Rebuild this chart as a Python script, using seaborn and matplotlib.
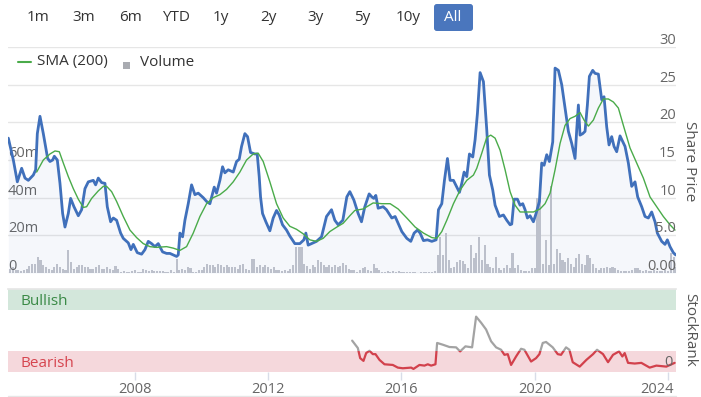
import numpy as np
import pandas as pd
import seaborn as sns
import matplotlib.pyplot as plt
import matplotlib.transforms as mtransforms
from matplotlib.lines import Line2D
from matplotlib.patches import Rectangle, FancyBboxPatch

# share price (decimal year, price)
price_year = [
    2004.20, 2004.35, 2004.47, 2004.60, 2004.70, 2004.80, 2004.95, 2005.02, 2005.07, 2005.15,
    2005.25, 2005.38, 2005.45, 2005.53, 2005.58, 2005.67, 2005.75, 2005.83, 2005.90, 2006.00,
    2006.07, 2006.17, 2006.30, 2006.40, 2006.50, 2006.60, 2006.75, 2006.82, 2006.90, 2007.00,
    2007.10, 2007.17, 2007.27, 2007.35, 2007.45, 2007.57, 2007.65, 2007.80, 2007.88, 2007.95,
    2008.07, 2008.20, 2008.30, 2008.40, 2008.50, 2008.60, 2008.70, 2008.83, 2008.95, 2009.05,
    2009.15, 2009.25, 2009.30, 2009.35, 2009.43, 2009.50, 2009.60, 2009.70, 2009.80, 2009.90,
    2010.05, 2010.15, 2010.25, 2010.38, 2010.45, 2010.55, 2010.63, 2010.70, 2010.80, 2010.95,
    2011.05, 2011.13, 2011.20, 2011.30, 2011.38, 2011.47, 2011.60, 2011.67, 2011.73, 2011.77,
    2011.83, 2011.93, 2012.05, 2012.15, 2012.25, 2012.33, 2012.43, 2012.55, 2012.65, 2012.80,
    2012.95, 2013.07, 2013.13, 2013.20, 2013.30, 2013.45, 2013.60, 2013.75, 2013.90, 2014.00,
    2014.10, 2014.24, 2014.36, 2014.45, 2014.57, 2014.70, 2014.80, 2014.90, 2015.03, 2015.11,
    2015.17, 2015.23, 2015.30, 2015.45, 2015.55, 2015.71, 2015.81, 2015.90, 2016.01, 2016.16,
    2016.28, 2016.38, 2016.48, 2016.56, 2016.66, 2016.78, 2016.91, 2017.04, 2017.11, 2017.21,
    2017.29, 2017.38, 2017.46, 2017.56, 2017.74, 2017.81, 2017.88, 2017.96, 2018.04, 2018.14,
    2018.21, 2018.28, 2018.36, 2018.46, 2018.56, 2018.64, 2018.74, 2018.81, 2018.94, 2019.06,
    2019.16, 2019.26, 2019.31, 2019.38, 2019.48, 2019.56, 2019.64, 2019.71, 2019.78, 2019.86,
    2019.96, 2020.04, 2020.14, 2020.21, 2020.28, 2020.36, 2020.44, 2020.54, 2020.61, 2020.71,
    2020.81, 2020.91, 2021.01, 2021.11, 2021.21, 2021.26, 2021.31, 2021.36, 2021.44, 2021.51,
    2021.58, 2021.64, 2021.74, 2021.81, 2021.91, 2022.01, 2022.08, 2022.16, 2022.23, 2022.31,
    2022.38, 2022.46, 2022.56, 2022.71, 2022.81, 2022.91, 2023.01, 2023.09, 2023.21, 2023.31,
    2023.41, 2023.51, 2023.61, 2023.68, 2023.81, 2023.91, 2023.98, 2024.06, 2024.16, 2024.23]
price = [
    17.9, 15.0, 12.1, 13.9, 12.6, 12.3, 13.0, 13.7, 18.5, 20.8,
    18.5, 15.2, 14.8, 15.0, 15.5, 15.0, 11.9, 7.9, 6.1, 7.9,
    9.9, 8.8, 7.6, 8.4, 11.2, 12.1, 12.3, 11.7, 12.6, 12.0,
    11.9, 8.8, 6.8, 7.3, 7.0, 5.3, 4.6, 4.0, 3.1, 3.8,
    2.7, 2.5, 3.1, 4.2, 3.9, 3.5, 3.9, 2.8, 2.6, 2.6,
    2.4, 2.2, 2.4, 5.3, 4.8, 7.0, 9.2, 11.7, 10.4, 10.6,
    10.0, 9.5, 9.2, 11.4, 10.6, 12.3, 14.1, 13.3, 13.7, 13.4,
    14.8, 15.1, 16.8, 18.5, 18.1, 16.0, 15.8, 15.8, 12.8, 10.1,
    7.9, 6.8, 5.6, 7.3, 8.3, 7.7, 6.4, 5.7, 4.9, 3.9,
    3.9, 4.4, 5.3, 3.7, 3.9, 4.2, 4.8, 7.5, 8.4, 7.0,
    6.4, 7.0, 10.1, 10.8, 9.7, 7.9, 6.8, 8.8, 10.5, 10.1,
    9.9, 10.3, 8.6, 8.8, 8.4, 7.3, 7.5, 6.6, 5.5, 4.6,
    4.2, 5.3, 5.7, 5.3, 4.3, 4.4, 4.2, 4.4, 8.4, 9.2,
    12.3, 15.2, 12.3, 12.3, 10.7, 11.9, 13.4, 12.8, 15.8, 15.4,
    17.7, 21.2, 26.6, 25.4, 19.0, 13.0, 11.0, 9.0, 7.5, 7.7,
    7.0, 6.4, 6.5, 9.8, 9.8, 9.0, 9.2, 8.4, 7.3, 7.6,
    6.8, 7.9, 9.5, 14.6, 14.3, 15.7, 14.8, 17.4, 27.2, 26.9,
    25.0, 21.9, 18.8, 17.2, 15.2, 19.0, 22.3, 18.3, 18.5, 18.8,
    22.3, 26.1, 26.9, 26.5, 26.4, 23.0, 23.4, 19.4, 17.0, 18.1,
    16.8, 16.1, 18.2, 16.8, 14.6, 11.5, 12.1, 10.1, 8.8, 7.5,
    7.3, 8.1, 6.8, 5.3, 4.2, 3.8, 4.4, 3.5, 2.7, 2.4]

# 200 day simple moving average
sma_year = [
    2005.05, 2005.25, 2005.45, 2005.60, 2005.73, 2005.85, 2006.00, 2006.15, 2006.30, 2006.45,
    2006.55, 2006.70, 2006.90, 2007.05, 2007.15, 2007.30, 2007.45, 2007.65, 2007.85, 2008.05,
    2008.25, 2008.45, 2008.65, 2008.95, 2009.15, 2009.35, 2009.55, 2009.75, 2009.95, 2010.15,
    2010.35, 2010.55, 2010.75, 2010.95, 2011.15, 2011.35, 2011.55, 2011.70, 2011.85, 2012.05,
    2012.25, 2012.45, 2012.65, 2012.85, 2013.05, 2013.25, 2013.45, 2013.65, 2013.85, 2014.06,
    2014.25, 2014.45, 2014.60, 2014.85, 2015.15, 2015.41, 2015.66, 2015.90, 2016.16, 2016.41,
    2016.66, 2016.91, 2017.06, 2017.21, 2017.36, 2017.56, 2017.76, 2017.96, 2018.16, 2018.26,
    2018.41, 2018.56, 2018.68, 2018.81, 2018.96, 2019.11, 2019.26, 2019.41, 2019.56, 2019.66,
    2019.96, 2020.16, 2020.31, 2020.46, 2020.61, 2020.76, 2020.91, 2021.06, 2021.21, 2021.36,
    2021.48, 2021.61, 2021.76, 2021.91, 2022.06, 2022.21, 2022.36, 2022.51, 2022.66, 2022.86,
    2023.06, 2023.26, 2023.46, 2023.66, 2023.86, 2024.06, 2024.21]
sma = [
    13.4, 15.0, 15.8, 16.2, 16.1, 14.6, 12.8, 11.2, 9.8, 8.7,
    8.8, 9.9, 10.9, 11.5, 11.5, 10.8, 9.5, 7.5, 5.7, 4.7,
    3.9, 3.5, 3.4, 3.5, 3.3, 3.0, 3.5, 5.3, 7.5, 9.2,
    10.0, 10.4, 11.1, 12.1, 13.4, 15.0, 15.8, 15.9, 14.8, 12.1,
    9.2, 7.3, 6.2, 5.8, 5.2, 4.4, 4.2, 4.6, 5.5, 6.1,
    6.6, 7.6, 8.3, 8.5, 9.3, 9.2, 9.2, 8.5, 7.3, 6.1,
    5.3, 4.7, 4.6, 5.5, 7.0, 9.2, 11.0, 12.3, 13.0, 13.9,
    15.9, 18.0, 18.3, 17.9, 16.3, 13.7, 10.8, 9.0, 8.1, 8.1,
    8.1, 8.5, 9.2, 10.6, 13.7, 17.2, 19.6, 20.5, 20.8, 21.3,
    20.3, 19.5, 20.3, 21.9, 23.1, 23.1, 22.7, 21.9, 19.6, 16.6,
    14.6, 12.6, 10.1, 8.8, 7.5, 6.4, 5.7]

# monthly volume in millions, from Mar 2004
volume_start = "2004-03-01"
volume_m = [
    2.3, 2.0, 3.0, 1.5, 1.5, 1.2, 1.5, 2.0, 3.5, 5.0,
    5.0, 8.5, 6.7, 4.5, 3.0, 2.3, 1.4, 3.0, 4.6, 3.0, 2.0, 1.4,
    12.4, 5.8, 2.3, 3.0, 4.0, 4.0, 3.0, 3.0, 2.3, 2.3, 3.0, 4.4,
    2.3, 2.3, 3.0, 2.3, 1.4, 3.5, 2.3, 0.5, 0.8, 0.5, 0.3, 0.8,
    1.4, 0.5, 0.3, 2.3, 1.4, 1.0, 1.4, 0.9, 0.9, 0.8, 0.9, 0.5,
    0.5, 1.4, 0.5, 7.6, 1.5, 2.3, 1.4, 3.0, 2.7, 0.5, 0.5, 1.4,
    1.4, 3.0, 5.0, 4.0, 4.0, 3.0, 5.0, 4.0, 3.0, 4.0, 3.0, 3.0,
    3.0, 2.3, 4.0, 5.0, 2.3, 1.5, 7.6, 7.6, 3.0, 4.0, 3.0, 4.0,
    3.0, 2.3, 3.0, 1.4, 1.4, 1.0, 1.4, 1.0, 2.0, 4.0, 13.8, 13.8,
    14.0, 5.0, 3.5, 2.3, 4.0, 3.0, 6.7, 6.0, 4.0, 3.0, 4.5, 3.0,
    4.5, 3.0, 3.5, 5.5, 4.0, 2.0, 1.6, 1.6, 0.7, 1.6, 2.5, 3.4,
    1.6, 1.2, 5.0, 2.5, 1.6, 0.7, 0.5, 1.2, 0.3, 1.2, 0.5, 1.2,
    0.3, 0.7, 0.3, 0.7, 0.3, 0.7, 0.2, 0.7, 0.3, 0.7, 0.5, 0.3,
    1.0, 9.5, 19.0, 9.5, 21.0, 7.0, 2.5, 3.4, 6.0, 7.0, 6.5, 5.0,
    2.5, 15.0, 7.8, 10.4, 19.3, 7.0, 15.0, 5.0, 3.4, 2.5, 8.7, 2.5,
    1.6, 2.5, 4.3, 2.5, 10.4, 2.5, 4.3, 1.6, 1.2, 1.2, 1.2, 2.5,
    2.5, 40.0, 42.0, 5.0, 17.5, 4.3, 46.0, 5.0, 13.0, 10.4, 7.0, 6.0,
    7.8, 5.0, 3.4, 7.8, 10.0, 5.0, 4.3, 9.5, 7.8, 5.0, 2.5, 1.6,
    2.5, 2.5, 3.0, 2.5, 3.4, 2.5, 1.6, 1.2, 0.8, 1.2, 1.2, 1.6,
    2.5, 2.5, 1.6, 1.2, 1.6, 1.2, 1.2, 1.6, 1.2, 1.2, 1.2, 1.6,
    1.2, 10.4, 8.7, 3.0]

# StockRank
rank_year = [
    2014.52, 2014.69, 2014.76, 2014.86, 2014.94, 2015.04, 2015.14, 2015.22, 2015.34, 2015.49,
    2015.74, 2015.89, 2016.04, 2016.29, 2016.36, 2016.54, 2016.69, 2016.79, 2016.89, 2017.02,
    2017.07, 2017.24, 2017.44, 2017.64, 2017.76, 2017.92, 2018.12, 2018.24, 2018.39, 2018.54,
    2018.69, 2018.84, 2018.99, 2019.09, 2019.19, 2019.29, 2019.44, 2019.59, 2019.69, 2019.89,
    2020.04, 2020.14, 2020.24, 2020.34, 2020.54, 2020.69, 2020.79, 2020.94, 2021.04, 2021.14,
    2021.35, 2021.55, 2021.75, 2021.87, 2022.05, 2022.20, 2022.35, 2022.53, 2022.63, 2022.70,
    2022.80, 2023.00, 2023.20, 2023.45, 2023.65, 2023.95, 2024.20]
rank = [
    37.8, 28.9, 16.7, 13.4, 22.8, 25.6, 21.5, 21.5, 14.6, 9.3,
    8.5, 5.3, 4.5, 5.3, 3.7, 8.5, 7.7, 9.3, 7.7, 9.3,
    35.0, 32.9, 30.1, 29.7, 24.8, 30.9, 29.7, 66.7, 59.4, 51.2,
    37.0, 29.7, 26.8, 20.7, 21.5, 8.5, 18.7, 28.0, 26.8, 12.6,
    16.7, 21.5, 35.0, 36.2, 29.7, 21.5, 20.7, 29.7, 26.8, 11.8,
    6.5, 14.6, 21.5, 26.8, 21.5, 11.8, 20.7, 24.8, 18.7, 22.8,
    11.0, 10.2, 11.0, 5.3, 7.7, 6.5, 11.0]

buttons = ["1m", "3m", "6m", "YTD", "1y", "2y", "3y", "5y", "10y", "All"]
price_ticks = [0, 5, 10, 15, 20, 25, 30]
price_labels = ["0.00", "5.0", "10", "15", "20", "25", "30"]
vol_ticks = [0, 20, 40, 60]
vol_labels = ["0", "20m", "40m", "60m"]
year_ticks = [2008, 2012, 2016, 2020, 2024]
bearish_top = 25
bullish_bottom = 75

BLUE = "#4070bb"
GREEN = "#4aab4a"
BAR = "#c3c5cc"
GRID = "#e6e6e6"
LABEL = "#666666"

sns.set_theme(style="white")
plt.rcParams['font.family'] = ['Open Sans', 'DejaVu Sans']

W, H = 701, 397
def fx(px):
    return px / W
def fy(py):
    return 1 - py / H

fig = plt.figure(figsize=(W / 100, H / 100), dpi=100)
xmin, xmax = 2004.19, 2024.24

# ---- main panel: volume (left scale) + price (right scale)
ax = fig.add_axes([fx(8), fy(273), fx(676) - fx(8), fy(47) - fy(273)])
months = pd.date_range(volume_start, periods=len(volume_m), freq="MS")
vol_df = pd.DataFrame({"year": months.year + (months.month - 1) / 12, "volume": volume_m})
sns.barplot(data=vol_df, x="year", y="volume", native_scale=True, orient="x",
            width=0.75, color=BAR, saturation=1, errorbar=None, linewidth=0, ax=ax)
ax.set_xlim(xmin, xmax)
ax.set_ylim(0, 120)
ax.set_yticks(range(0, 121, 20))
ax.yaxis.grid(True, color=GRID, lw=1)
ax.set_axisbelow(True)
ax.set_xlabel("")
ax.set_ylabel("")
for s in ax.spines.values():
    s.set_visible(False)

vtrans = mtransforms.offset_copy(
    mtransforms.blended_transform_factory(ax.transAxes, ax.transData), fig=fig, y=3, units="dots")
for v, lab in zip(vol_ticks, vol_labels):
    ax.text(0.0, v, lab, transform=vtrans, ha="left", va="baseline", fontsize=10.5, color=LABEL)

ax2 = ax.twinx()
# twinx turns the left ticks back on, so switch them off afterwards
ax.tick_params(left=False, labelleft=False, right=False, labelright=False,
               bottom=False, labelbottom=False)
ax2.fill_between(price_year, price, 0, color=BLUE, alpha=0.05, lw=0)
sns.lineplot(x=price_year, y=price, ax=ax2, color=BLUE, lw=2.0)
sns.lineplot(x=sma_year, y=sma, ax=ax2, color=GREEN, lw=1.0)
ax2.set_xlim(xmin, xmax)
ax2.set_ylim(0, 30)
ax2.set_yticks([])
ax2.set_ylabel("")
ax2.tick_params(left=False, right=False, bottom=False, labelbottom=False)
for s in ax2.spines.values():
    s.set_visible(False)

ptrans = mtransforms.offset_copy(
    mtransforms.blended_transform_factory(ax2.transAxes, ax2.transData), fig=fig, y=3, units="dots")
for v, lab in zip(price_ticks, price_labels):
    ax2.text(1.0, v, lab, transform=ptrans, ha="right", va="baseline", fontsize=10.5, color=LABEL)

# ---- StockRank panel
ax3 = fig.add_axes([fx(8), fy(372), fx(676) - fx(8), fy(289) - fy(372)])
ax3.set_xlim(xmin, xmax)
ax3.set_ylim(0, 100)
ax3.axhspan(bullish_bottom, 100, color="#d3e7db", lw=0)
ax3.axhspan(0, bearish_top, color="#f5d8dc", lw=0)

sns.lineplot(x=rank_year, y=rank, ax=ax3, color="#a3a3a3", lw=1.6)
ax3.lines[-1].set_clip_path(Rectangle((2000, bearish_top), 30, 100, transform=ax3.transData))
sns.lineplot(x=rank_year, y=rank, ax=ax3, color="#d2414c", lw=1.6)
ax3.lines[-1].set_clip_path(Rectangle((2000, -10), 30, bearish_top + 10, transform=ax3.transData))

btrans = mtransforms.blended_transform_factory(ax3.transAxes, ax3.transData)
ax3.text(12 / 668, 85, "Bullish", transform=btrans, va="center", fontsize=11, color="#3a8a46")
ax3.text(12 / 668, 10, "Bearish", transform=btrans, va="center", fontsize=11, color="#d6454f")
ax3.text(1 - 3 / 668, 11, "0", transform=btrans, ha="right", va="center", fontsize=10.5, color=LABEL)

ax3.set_xticks(year_ticks)
ax3.set_xticklabels([str(y) for y in year_ticks])
ax3.set_yticks([])
ax3.set_xlabel("")
ax3.set_ylabel("")
ax3.tick_params(axis="x", bottom=True, direction="out", length=6, width=1, color="#d8dde8",
                labelsize=10.5, labelcolor=LABEL, pad=1.5)
for name, s in ax3.spines.items():
    s.set_visible(name == "top")
ax3.spines["top"].set_color(GRID)
last = ax3.get_xticklabels()[-1]
last.set_ha("right")
last.set_transform(last.get_transform() + mtransforms.ScaledTranslation(6 / 100, 0, fig.dpi_scale_trans))

# ---- axis titles
fig.text(fx(690), fy(161), "Share Price", rotation=-90, ha="center", va="center", fontsize=11, color="#555555")
fig.text(fx(690), fy(330), "StockRank", rotation=-90, ha="center", va="center", fontsize=11, color="#555555")

# ---- range buttons
btn_x = [38, 84, 130, 176, 221, 268, 315, 362, 408, 453]
fig.add_artist(FancyBboxPatch((fx(434), fy(31)), 39 / W, 27 / H, transform=fig.transFigure,
                              boxstyle="round,pad=0,rounding_size=0.004", mutation_aspect=W / H,
                              fc="#4a76bd", ec="none"))
for bx, b in zip(btn_x, buttons):
    fig.text(fx(bx), fy(17.5), b, ha="center", va="center", fontsize=11,
             color="white" if b == "All" else "#333333")

# ---- legend
fig.add_artist(Line2D([fx(18), fx(31)], [fy(62), fy(62)], color=GREEN, lw=1.5, transform=fig.transFigure))
fig.text(fx(37), fy(62), "SMA (200)", ha="left", va="center", fontsize=11, color="#333333")
fig.add_artist(Rectangle((fx(123), fy(69)), 7 / W, 7 / H, transform=fig.transFigure, fc="#a9abb1", ec="none"))
fig.text(fx(140), fy(62), "Volume", ha="left", va="center", fontsize=11, color="#333333")

fig.add_artist(Line2D([fx(8), fx(676)], [fy(396), fy(396)], color=GRID, lw=1, transform=fig.transFigure))

fig.savefig("out.png", dpi=100)
